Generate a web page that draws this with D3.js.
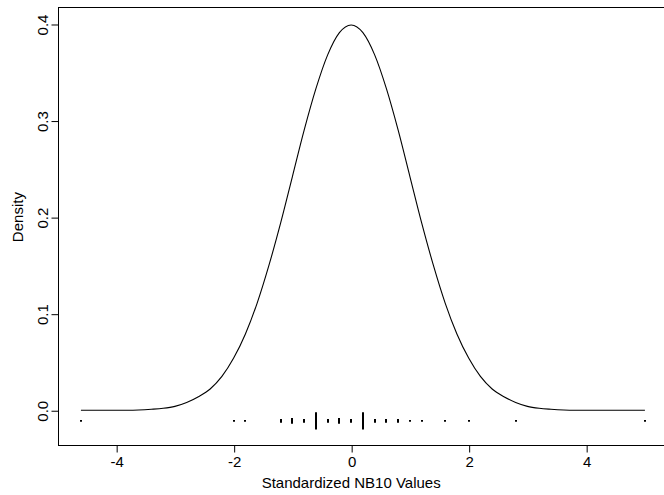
<!DOCTYPE html>
<html>
<head>
<meta charset="utf-8">
<script src="https://cdn.jsdelivr.net/npm/d3@7"></script>
<style>
  body { margin: 0; background: #fff; }
  text { font-family: "Liberation Sans", Arial, sans-serif; fill: #000; }
</style>
</head>
<body>
<div id="chart"></div>
<script>
// Density curve (x, density)
const curveX = [-4.6, -4.2, -3.8, -3.4, -3.2, -3.0, -2.8, -2.6, -2.4, -2.2, -2.0, -1.8, -1.6, -1.4, -1.2, -1.0, -0.8, -0.6, -0.4, -0.2,
                0.0, 0.2, 0.4, 0.6, 0.8, 1.0, 1.2, 1.4, 1.6, 1.8, 2.0, 2.2, 2.4, 2.6, 2.8, 3.0, 3.2, 3.4, 3.8, 4.2, 4.6, 5.0];
const curveY = [0.000, 0.000, 0.000, 0.001, 0.002, 0.004, 0.008, 0.014, 0.022, 0.035, 0.054, 0.079, 0.111, 0.150, 0.194, 0.242, 0.290, 0.333, 0.368, 0.391,
                0.399, 0.391, 0.368, 0.333, 0.290, 0.242, 0.194, 0.150, 0.111, 0.079, 0.054, 0.035, 0.022, 0.014, 0.008, 0.004, 0.002, 0.001, 0.000, 0.000, 0.000, 0.000];

// Strip of standardized values and how many stack at each
const rugValues = [-4.6, -2.0, -1.8, -1.2, -1.0, -0.8, -0.6, -0.4, -0.2, 0.0, 0.2, 0.4, 0.6, 0.8, 1.0, 1.2, 1.6, 2.0, 2.8, 5.0];
const rugCounts = [1, 1, 1, 2, 3, 2, 9, 2, 3, 2, 9, 2, 2, 2, 1, 1, 1, 1, 1, 1];
const rugLevel = -0.011;

const xTicks = [-4, -2, 0, 2, 4];
const yTicks = [0.0, 0.1, 0.2, 0.3, 0.4];

const width = 664, height = 495;
const margin = { top: 7, left: 58, bottom: 445 };
const fontSize = 15;

const svg = d3.select("#chart")
    .append("svg")
    .attr("width", width)
    .attr("height", height);

// Scales
const x = d3.scaleLinear()
    .domain([-4.99, 5.4])
    .range([margin.left, margin.left + 10.39 * 58.75]);

const y = d3.scaleLinear()
    .domain([-0.036, 0.4176])
    .range([margin.bottom, margin.top]);

// Plot box (right side runs off the canvas)
svg.append("rect")
    .attr("x", x.range()[0] + 0.5)
    .attr("y", y.range()[1] + 0.5)
    .attr("width", x.range()[1] - x.range()[0])
    .attr("height", y.range()[0] - y.range()[1])
    .attr("fill", "none")
    .attr("stroke", "#000")
    .attr("stroke-width", 1);

// Density line
const pts = curveX.map((v, i) => ({ x: v, y: curveY[i] }));
svg.append("path")
    .datum(pts)
    .attr("fill", "none")
    .attr("stroke", "#000")
    .attr("stroke-width", 1.1)
    .attr("d", d3.line()
        .x(d => x(d.x))
        .y(d => y(d.y))
        .curve(d3.curveMonotoneX));

// Stacked strip marks
svg.selectAll("line.rug")
    .data(rugValues.map((v, i) => ({ v: v, n: rugCounts[i] })))
    .enter()
    .append("line")
    .attr("class", "rug")
    .attr("x1", d => Math.round(x(d.v)))
    .attr("x2", d => Math.round(x(d.v)))
    .attr("y1", d => y(rugLevel + d.n * 0.001))
    .attr("y2", d => y(rugLevel - d.n * 0.001))
    .attr("stroke", "#000")
    .attr("stroke-width", 2);

// X axis
const xAxis = svg.append("g")
    .attr("transform", `translate(0.5, ${margin.bottom + 0.5})`)
    .call(d3.axisBottom(x).tickValues(xTicks).tickSize(7).tickPadding(4)
        .tickFormat(d => d3.format("d")(d).replace("−", "-")));
xAxis.select(".domain").remove();
xAxis.selectAll("text").attr("font-size", fontSize).attr("font-family", "Liberation Sans, Arial, sans-serif");

// Y axis
const yAxis = svg.append("g")
    .attr("transform", `translate(${margin.left + 0.5}, 0.5)`)
    .call(d3.axisLeft(y).tickValues(yTicks).tickSize(7).tickFormat(d3.format(".1f")));
yAxis.select(".domain").remove();
yAxis.selectAll("text")
    .attr("font-size", fontSize)
    .attr("font-family", "Liberation Sans, Arial, sans-serif")
    .attr("x", null)
    .attr("dy", null)
    .attr("y", 0)
    .attr("text-anchor", "middle")
    .attr("transform", "translate(-11, 0) rotate(-90)");

// Labels
svg.append("text")
    .attr("x", x(0))
    .attr("y", 488)
    .attr("text-anchor", "middle")
    .attr("font-size", fontSize)
    .text("Standardized NB10 Values");

svg.append("text")
    .attr("transform", `translate(23, ${y(0.2)}) rotate(-90)`)
    .attr("text-anchor", "middle")
    .attr("font-size", fontSize)
    .text("Density");
</script>
</body>
</html>
